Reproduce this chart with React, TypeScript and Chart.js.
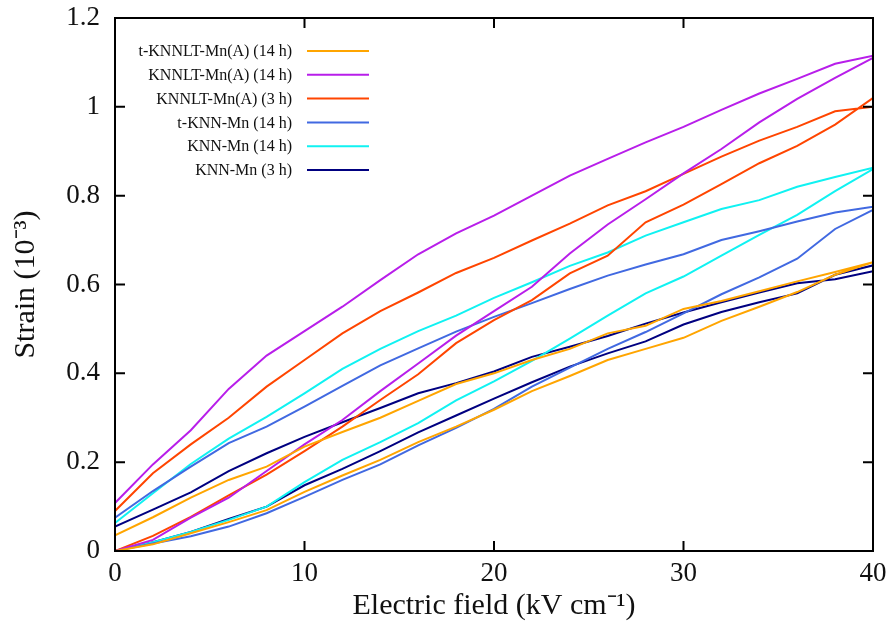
import React, { useEffect, useRef } from "react";
import { Chart, registerables } from "chart.js";

Chart.register(...registerables);

// Electric field sample positions (kV/cm) shared by every branch
const fieldSteps = [0, 2, 4, 6, 8, 10, 12, 14, 16, 18, 20, 22, 24, 26, 28, 30, 32, 34, 36, 38, 40];

const seriesNames = [
  "t-KNNLT-Mn(A) (14 h)",
  "KNNLT-Mn(A) (14 h)",
  "KNNLT-Mn(A) (3 h)",
  "t-KNN-Mn (14 h)",
  "KNN-Mn (14 h)",
  "KNN-Mn (3 h)",
];
const seriesColors = ["#FFA500", "#B81EEA", "#FF4500", "#4169E1", "#10F2F2", "#000080"];

// rising branch (field increasing) and falling branch (listed at increasing field)
const riseTKnnltA14 = [0, 0.015, 0.04, 0.065, 0.092, 0.133, 0.17, 0.205, 0.245, 0.28, 0.318, 0.36, 0.394, 0.43, 0.455, 0.48, 0.518, 0.55, 0.583, 0.622, 0.65];
const fallTKnnltA14 = [0.035, 0.076, 0.12, 0.16, 0.19, 0.235, 0.268, 0.3, 0.338, 0.376, 0.4, 0.43, 0.455, 0.49, 0.507, 0.545, 0.563, 0.585, 0.607, 0.628, 0.65];

const riseKnnltA14 = [0, 0.025, 0.075, 0.12, 0.18, 0.24, 0.295, 0.36, 0.422, 0.485, 0.54, 0.595, 0.67, 0.735, 0.792, 0.85, 0.905, 0.965, 1.018, 1.065, 1.11];
const fallKnnltA14 = [0.108, 0.195, 0.272, 0.365, 0.44, 0.495, 0.55, 0.61, 0.668, 0.715, 0.755, 0.8, 0.845, 0.883, 0.92, 0.955, 0.993, 1.03, 1.063, 1.097, 1.115];

const riseKnnltA3 = [0, 0.034, 0.077, 0.125, 0.172, 0.225, 0.28, 0.34, 0.398, 0.468, 0.52, 0.565, 0.625, 0.665, 0.74, 0.78, 0.826, 0.873, 0.912, 0.96, 1.02];
const fallKnnltA3 = [0.09, 0.175, 0.24, 0.3, 0.37, 0.43, 0.49, 0.54, 0.582, 0.626, 0.66, 0.699, 0.737, 0.778, 0.81, 0.849, 0.888, 0.924, 0.955, 0.99, 1.0];

const riseTKnn14 = [0, 0.017, 0.033, 0.055, 0.085, 0.122, 0.16, 0.195, 0.238, 0.277, 0.32, 0.37, 0.413, 0.455, 0.493, 0.535, 0.578, 0.616, 0.658, 0.725, 0.768];
const fallTKnn14 = [0.075, 0.135, 0.19, 0.243, 0.28, 0.325, 0.372, 0.418, 0.456, 0.494, 0.527, 0.558, 0.59, 0.62, 0.645, 0.668, 0.7, 0.72, 0.742, 0.762, 0.775];

const riseKnn14 = [0, 0.02, 0.043, 0.07, 0.1, 0.155, 0.205, 0.245, 0.288, 0.339, 0.382, 0.428, 0.478, 0.53, 0.58, 0.618, 0.665, 0.712, 0.757, 0.81, 0.86];
const fallKnn14 = [0.063, 0.13, 0.196, 0.253, 0.302, 0.355, 0.41, 0.455, 0.495, 0.53, 0.57, 0.605, 0.642, 0.672, 0.71, 0.74, 0.77, 0.79, 0.82, 0.842, 0.863];

const riseKnn3 = [0, 0.02, 0.043, 0.072, 0.1, 0.148, 0.185, 0.225, 0.267, 0.305, 0.343, 0.38, 0.415, 0.445, 0.472, 0.51, 0.538, 0.56, 0.58, 0.622, 0.643];
const fallKnn3 = [0.055, 0.093, 0.132, 0.18, 0.22, 0.257, 0.29, 0.322, 0.355, 0.378, 0.404, 0.437, 0.46, 0.484, 0.512, 0.537, 0.56, 0.582, 0.603, 0.612, 0.63];

const riseSeries = [riseTKnnltA14, riseKnnltA14, riseKnnltA3, riseTKnn14, riseKnn14, riseKnn3];
const fallSeries = [fallTKnnltA14, fallKnnltA14, fallKnnltA3, fallTKnn14, fallKnn14, fallKnn3];

const xTicks = [0, 10, 20, 30, 40];
const yTicks = [0, 0.2, 0.4, 0.6, 0.8, 1, 1.2];
const xTitle = "Electric field (kV cm\u207B\u00B9)";
const yTitle = "Strain (10\u207B\u00B3)";

const FONT = "'Liberation Serif', 'Times New Roman', serif";

function loop(rise: number[], fall: number[]) {
  const up = rise.map((y, i) => ({ x: fieldSteps[i], y }));
  const down = fall.map((y, i) => ({ x: fieldSteps[i], y })).reverse();
  return [...up, ...down];
}

const framePlugin = {
  id: "frame",
  afterDraw(chart: any) {
    const { ctx, chartArea } = chart;
    const { left, right, top, bottom } = chartArea;
    const xs = chart.scales.x;
    const ys = chart.scales.y;
    const len = 10;
    ctx.save();
    ctx.strokeStyle = "#000";
    ctx.lineWidth = 2;
    ctx.beginPath();
    xTicks.forEach((v) => {
      const px = xs.getPixelForValue(v);
      ctx.moveTo(px, bottom);
      ctx.lineTo(px, bottom - len);
      ctx.moveTo(px, top);
      ctx.lineTo(px, top + len);
    });
    yTicks.forEach((v) => {
      const py = ys.getPixelForValue(v);
      ctx.moveTo(left, py);
      ctx.lineTo(left + len, py);
      ctx.moveTo(right, py);
      ctx.lineTo(right - len, py);
    });
    ctx.stroke();
    ctx.strokeRect(left, top, right - left, bottom - top);
    ctx.restore();
  },
};

const legendPlugin = {
  id: "insideLegend",
  afterDraw(chart: any) {
    const { ctx, chartArea } = chart;
    const textRight = chartArea.left + 177;
    const lineStart = chartArea.left + 192;
    const lineEnd = chartArea.left + 254;
    const firstRow = chartArea.top + 33;
    const rowGap = 23.8;
    ctx.save();
    ctx.font = `16px ${FONT}`;
    ctx.textAlign = "right";
    ctx.textBaseline = "middle";
    chart.data.datasets.forEach((ds: any, i: number) => {
      const y = firstRow + i * rowGap;
      ctx.fillStyle = "#111";
      ctx.fillText(ds.label, textRight, y + 1);
      ctx.strokeStyle = ds.borderColor;
      ctx.lineWidth = 2;
      ctx.beginPath();
      ctx.moveTo(lineStart, y);
      ctx.lineTo(lineEnd, y);
      ctx.stroke();
    });
    ctx.restore();
  },
};

export default function App() {
  const ref = useRef<HTMLCanvasElement | null>(null);
  useEffect(() => {
    if (!ref.current) return;
    const datasets = seriesNames.map((name, i) => ({
      label: name,
      data: loop(riseSeries[i], fallSeries[i]),
      borderColor: seriesColors[i],
      backgroundColor: seriesColors[i],
      borderWidth: 2,
      pointRadius: 0,
      showLine: true,
      tension: 0,
      fill: false,
    }));
    const chart = new Chart(ref.current, {
      type: "scatter",
      data: { datasets },
      plugins: [framePlugin, legendPlugin],
      options: {
        animation: false,
        responsive: false,
        devicePixelRatio: 1,
        layout: { padding: { top: 18, right: 18, left: 0, bottom: 0 } },
        plugins: { legend: { display: false }, tooltip: { enabled: false } },
        scales: {
          x: {
            type: "linear",
            min: 0,
            max: 40,
            afterFit: (s: any) => {
              s.height = 73;
              s.paddingLeft = 0;
              s.paddingRight = 0;
            },
            afterBuildTicks: (s: any) => { s.ticks = xTicks.map((v) => ({ value: v })); },
            grid: { display: false, drawTicks: false },
            border: { display: false },
            ticks: { padding: 7, color: "#111", font: { family: FONT, size: 27 }, maxRotation: 0 },
            title: { display: true, text: xTitle, color: "#111", font: { family: FONT, size: 30 }, padding: { top: 0, bottom: 0 } },
          },
          y: {
            type: "linear",
            min: 0,
            max: 1.2,
            afterFit: (s: any) => {
              s.width = 115;
              s.paddingTop = 0;
              s.paddingBottom = 0;
            },
            afterBuildTicks: (s: any) => { s.ticks = yTicks.map((v) => ({ value: v })); },
            grid: { display: false, drawTicks: false },
            border: { display: false },
            ticks: {
              padding: 15,
              color: "#111",
              font: { family: FONT, size: 27 },
              callback: (v: any) => String(Number(Number(v).toFixed(1))),
            },
            title: { display: true, text: yTitle, color: "#111", font: { family: FONT, size: 30 }, padding: { top: 8, bottom: 0 } },
          },
        },
      } as any,
    });
    return () => chart.destroy();
  }, []);
  return (
    <div style={{ position: "fixed", left: 0, top: 0, width: 891, height: 624, background: "#fff" }}>
      <canvas ref={ref} width={891} height={624} style={{ width: 891, height: 624 }} />
    </div>
  );
}
